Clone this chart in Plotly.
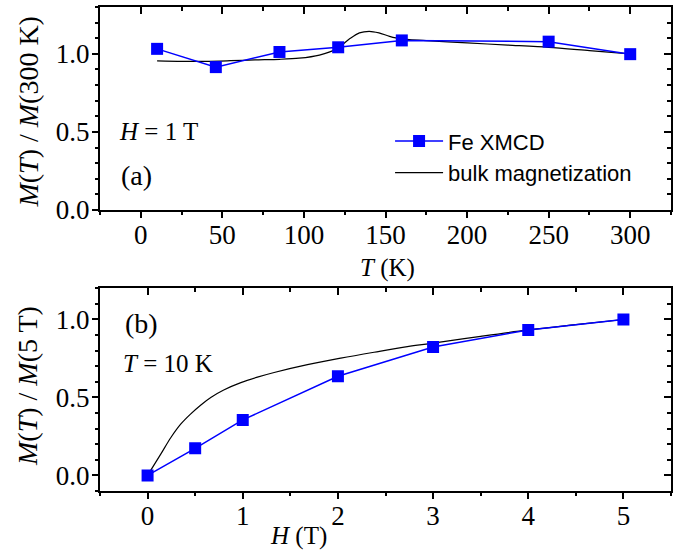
import plotly.graph_objects as go

# ---- data (a): temperature dependence at H = 1 T ----
T_xmcd = [10, 46, 85, 121, 160, 250, 300]
M_xmcd_T = [1.032, 0.915, 1.012, 1.042, 1.086, 1.078, 0.998]

T_bulk = [10, 25, 40, 55, 70, 85, 97, 109.5, 120, 128, 134, 140, 146, 152.5, 159, 175, 200, 225, 250, 275, 300]
M_bulk_T = [0.955, 0.952, 0.952, 0.956, 0.961, 0.965, 0.972, 0.992, 1.032, 1.096, 1.134, 1.144, 1.134, 1.112, 1.096, 1.085, 1.070, 1.056, 1.042, 1.021, 1.000]

# ---- data (b): field dependence at T = 10 K ----
H_xmcd = [0, 0.5, 1, 2, 3, 4, 5]
M_xmcd_H = [0.0, 0.174, 0.356, 0.636, 0.824, 0.933, 1.0]

H_bulk = [0.0, 0.14, 0.245, 0.35, 0.454, 0.56, 0.664, 0.80, 0.98, 1.154, 1.33, 1.68, 2.03, 2.38, 2.73, 3.0, 3.5, 4.0, 4.5, 5.0]
M_bulk_H = [0.0, 0.138, 0.243, 0.330, 0.395, 0.452, 0.500, 0.548, 0.595, 0.630, 0.660, 0.710, 0.752, 0.790, 0.826, 0.848, 0.892, 0.933, 0.967, 1.0]

legend_names = ["Fe XMCD", "bulk magnetization"]

BLUE = "#0000FF"
SERIF = "Liberation Serif"
SANS = "Liberation Sans"

fig = go.Figure()

# panel (a)
fig.add_trace(go.Scatter(x=T_bulk, y=M_bulk_T, mode="lines", name=legend_names[1],
                         line=dict(color="black", width=1.2, shape="spline", smoothing=0.8),
                         xaxis="x", yaxis="y", legendrank=2))
fig.add_trace(go.Scatter(x=T_xmcd, y=M_xmcd_T, mode="lines+markers", name=legend_names[0],
                         line=dict(color=BLUE, width=1.5),
                         marker=dict(symbol="square", size=12, color=BLUE),
                         xaxis="x", yaxis="y", legendrank=1))
# panel (b)
fig.add_trace(go.Scatter(x=H_bulk, y=M_bulk_H, mode="lines", showlegend=False,
                         line=dict(color="black", width=1.2, shape="spline", smoothing=1.0),
                         xaxis="x2", yaxis="y2"))
fig.add_trace(go.Scatter(x=H_xmcd, y=M_xmcd_H, mode="lines+markers", showlegend=False,
                         line=dict(color=BLUE, width=1.5),
                         marker=dict(symbol="square", size=12, color=BLUE),
                         xaxis="x2", yaxis="y2"))
# invisible traces so the tick-only overlay axes render
for xa, ya in [("x3", "y3"), ("x4", "y4"), ("x5", "y5"), ("x6", "y6")]:
    fig.add_trace(go.Scatter(x=[None], y=[None], showlegend=False, xaxis=xa, yaxis=ya, hoverinfo="skip"))

TOP_DOM = [0.5806, 1.0]
BOT_DOM = [0.0, 0.4188]
tickfont = dict(family=SERIF, size=27, color="black")

def label_axis(rng, dtick, dom, anchor, gap, **kw):
    # frame + tick labels only (tick marks are drawn by the overlay axes);
    # an invisible tick of length `gap` sets the label distance from the frame
    return dict(range=rng, dtick=dtick, domain=dom, anchor=anchor, automargin=False,
                showline=True, linecolor="black", linewidth=2, mirror=True,
                ticks="outside" if gap else "", ticklen=gap, tickcolor="rgba(0,0,0,0)",
                showgrid=False, zeroline=False, tickfont=tickfont, **kw)

def tick_axis(rng, dtick, minor, dom, anchor, overlaying, side, direction):
    return dict(range=rng, dtick=dtick, tick0=0, domain=dom, anchor=anchor, overlaying=overlaying, side=side,
                automargin=False, showline=False, ticks=direction, ticklen=7, tickwidth=1.5, tickcolor="black",
                minor=dict(dtick=minor, ticks=direction, ticklen=4, tickwidth=1.5, tickcolor="black"),
                showticklabels=False, showgrid=False, zeroline=False)

XR_A, YR_A = [-25, 325], [0, 1.3]
XR_B, YR_B = [-0.5, 5.5], [-0.1, 1.2]

fig.update_layout(
    width=674, height=556,
    margin=dict(l=100, r=3, t=7, b=65, autoexpand=False),
    paper_bgcolor="white", plot_bgcolor="white",
    xaxis=label_axis(XR_A, 50, [0, 1], "y", 0, tick0=0),
    yaxis=label_axis(YR_A, 0.5, TOP_DOM, "x", 3, tickformat=".1f", tick0=0),
    xaxis2=label_axis(XR_B, 1, [0, 1], "y2", 0, tick0=0),
    yaxis2=label_axis(YR_B, 0.5, BOT_DOM, "x2", 3, tickformat=".1f", tick0=0),
    # inward ticks on top / right
    xaxis3=tick_axis(XR_A, 50, 25, [0, 1], "y3", "x", "top", "inside"),
    yaxis3=tick_axis(YR_A, 0.5, 0.1, TOP_DOM, "x3", "y", "right", "inside"),
    xaxis4=tick_axis(XR_B, 1, 0.5, [0, 1], "y4", "x2", "top", "inside"),
    yaxis4=tick_axis(YR_B, 0.5, 0.1, BOT_DOM, "x4", "y2", "right", "inside"),
    # outward ticks on bottom / left
    xaxis5=tick_axis(XR_A, 50, 25, [0, 1], "y5", "x", "bottom", "outside"),
    yaxis5=tick_axis(YR_A, 0.5, 0.1, TOP_DOM, "x5", "y", "left", "outside"),
    xaxis6=tick_axis(XR_B, 1, 0.5, [0, 1], "y6", "x2", "bottom", "outside"),
    yaxis6=tick_axis(YR_B, 0.5, 0.1, BOT_DOM, "x6", "y2", "left", "outside"),
    showlegend=True,
    legend=dict(x=0.508, y=0.766, xanchor="left", yanchor="top",
                bgcolor="rgba(0,0,0,0)", borderwidth=0,
                font=dict(family=SANS, size=22, color="black"),
                itemwidth=48, tracegroupgap=0),
)

ann_font = dict(family=SERIF, color="black")
annotations = [
    dict(text="<i>M</i>(<i>T</i>) / <i>M</i>(300 K)", xref="paper", yref="paper", x=-0.126, y=0.784,
         textangle=-90, showarrow=False, font=dict(size=28, **ann_font), xanchor="center", yanchor="middle"),
    dict(text="<i>M</i>(<i>T</i>) / <i>M</i>(5 T)", xref="paper", yref="paper", x=-0.126, y=0.217,
         textangle=-90, showarrow=False, font=dict(size=28, **ann_font), xanchor="center", yanchor="middle"),
    dict(text="<i>T</i> (K)", xref="paper", yref="paper", x=0.504, y=0.461,
         showarrow=False, font=dict(size=25, **ann_font), xanchor="center", yanchor="middle"),
    dict(text="<i>H</i> (T)", xref="paper", yref="paper", x=0.348, y=-0.093,
         showarrow=False, font=dict(size=25, **ann_font), xanchor="center", yanchor="middle"),
    dict(text="<i>H</i> = 1 T", xref="x", yref="y", x=-14.6, y=0.504,
         showarrow=False, font=dict(size=25, **ann_font), xanchor="left", yanchor="middle"),
    dict(text="(a)", xref="x", yref="y", x=-13.3, y=0.223,
         showarrow=False, font=dict(size=28, **ann_font), xanchor="left", yanchor="middle"),
    dict(text="(b)", xref="x2", yref="y2", x=-0.262, y=0.975,
         showarrow=False, font=dict(size=28, **ann_font), xanchor="left", yanchor="middle"),
    dict(text="<i>T</i> = 10 K", xref="x2", yref="y2", x=-0.28, y=0.72,
         showarrow=False, font=dict(size=25, **ann_font), xanchor="left", yanchor="middle"),
]
fig.update_layout(annotations=annotations)

# remove the browser's default 8px page margin so the figure sits at the window origin
fig.write_html("out.html", config={"displayModeBar": False},
               post_script="document.body.style.margin='0px';")
